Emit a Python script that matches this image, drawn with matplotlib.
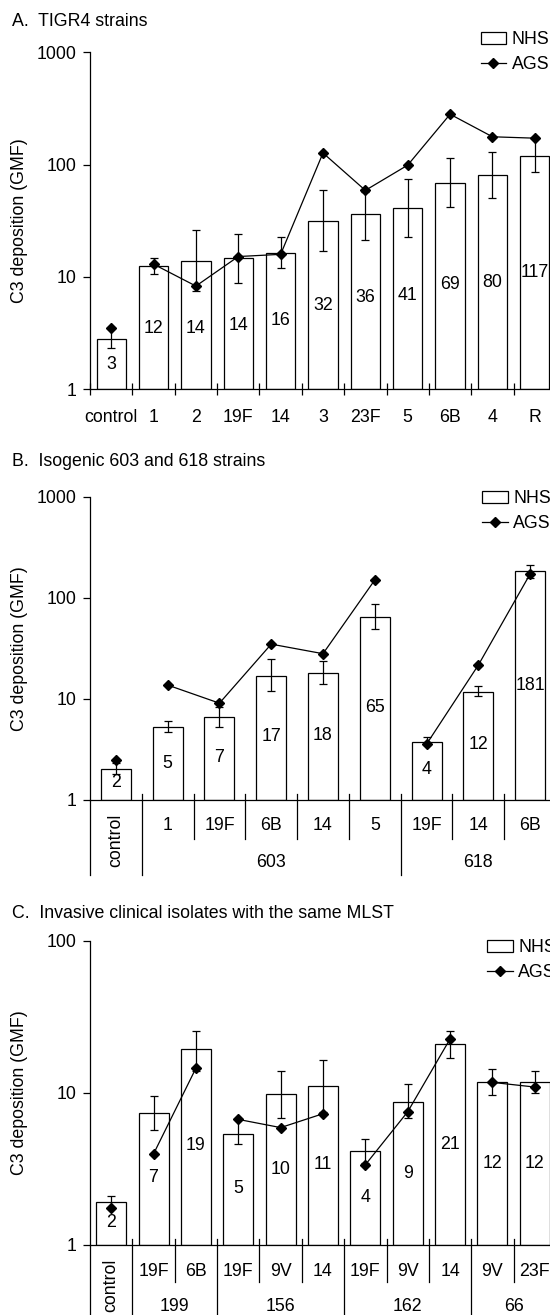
import numpy as np
import matplotlib
matplotlib.use('Agg')
import matplotlib.pyplot as plt
from matplotlib.transforms import blended_transform_factory
from matplotlib.patches import Rectangle
from matplotlib.lines import Line2D
from matplotlib.ticker import NullLocator

plt.rcParams['font.family'] = ['Liberation Sans', 'DejaVu Sans']
plt.rcParams['font.size'] = 12.8

# A. TIGR4 strains
cat_a = ['control', '1', '2', '19F', '14', '3', '23F', '5', '6B', '4', 'R']
nhs_a = [2.8, 12.6, 14.0, 14.7, 16.5, 31.7, 36.6, 41.4, 69, 81, 120]
nhs_a_lo = [2.35, 10.6, 7.5, 8.8, 11.9, 17, 21.4, 22.9, 42, 50.5, 86.7]
nhs_a_hi = [3.5, 14.7, 26.2, 24, 22.6, 59, 57, 74.6, 115, 130, 177]
ags_a = [3.5, 13.0, 8.3, 15.2, 15.9, 127, 59, 99, 281, 177, 172]
lab_a = ['3', '12', '14', '14', '16', '32', '36', '41', '69', '80', '117']
lab_a_y = [1.67, 3.5, 3.5, 3.7, 4.06, 5.6, 6.6, 6.9, 8.5, 9.0, 10.9]
ags_runs_a = [[0], list(range(1, 11))]

# B. Isogenic 603 and 618 strains
cat_b = ['control', '1', '19F', '6B', '14', '5', '19F', '14', '6B']
nhs_b = [2.02, 5.3, 6.56, 17.0, 18.2, 65, 3.72, 11.8, 184]
nhs_b_lo = [1.8, 4.66, 5.3, 11.9, 14.1, 49.5, 3.47, 10.6, 156]
nhs_b_hi = [2.3, 6.1, 8.4, 24.9, 23.5, 87.5, 4.2, 13.4, 209]
ags_b = [2.5, 13.7, 9.07, 34.8, 28, 150, 3.57, 21.6, 172]
lab_b = ['2', '5', '7', '17', '18', '65', '4', '12', '181']
lab_b_y = [1.48, 2.3, 2.66, 4.2, 4.35, 8.2, 1.99, 3.5, 13.7]
groups_b = [('603', 1, 6), ('618', 6, 9)]

# C. Invasive clinical isolates with the same MLST
cat_c = ['control', '19F', '6B', '19F', '9V', '14', '19F', '9V', '14', '9V', '23F']
nhs_c = [1.92, 7.38, 19.4, 5.35, 9.77, 11.1, 4.17, 8.69, 20.8, 11.7, 11.7]
nhs_c_lo = [1.75, 5.71, 14.0, 4.6, 6.82, 7.5, 3.43, 6.8, 16.8, 9.6, 10.0]
nhs_c_hi = [2.1, 9.58, 25.6, 6.73, 14.0, 16.3, 5.0, 11.4, 25.3, 14.3, 14.0]
ags_c = [1.75, 3.96, 14.5, 6.68, 5.9, 7.28, 3.36, 7.5, 22.6, 11.7, 10.9]
lab_c = ['2', '7', '19', '5', '10', '11', '4', '9', '21', '12', '12']
lab_c_y = [1.41, 2.76, 4.5, 2.34, 3.15, 3.36, 2.06, 2.95, 4.6, 3.4, 3.4]
groups_c = [('199', 1, 3), ('156', 3, 6), ('162', 6, 9), ('66', 9, 11)]

W, H = 550, 1315
LW = 0.9
fig = plt.figure(figsize=(W / 100, H / 100), dpi=100)


def fy(y):
    return 1 - y / H


def make_axes(top, bottom, yticks):
    # axes runs from x=90px to past the right edge (the original is cropped)
    ax = fig.add_axes([90 / W, fy(bottom), 466 / W, (bottom - top) / H])
    ax.set_yscale('log')
    ax.set_ylim(yticks[0], yticks[-1])
    ax.set_yticks(yticks)
    ax.set_yticklabels([str(t) for t in yticks])
    ax.yaxis.set_minor_locator(NullLocator())
    ax.spines[['top', 'right']].set_visible(False)
    for s in ['left', 'bottom']:
        ax.spines[s].set_linewidth(LW)
    ax.tick_params(axis='y', length=5, width=LW, pad=5)
    ax.set_ylabel('C3 deposition (GMF)')
    ax.yaxis.set_label_coords(-62 / 466, 0.5)
    return ax


def draw_data(ax, nhs, lo, hi, ags, labs, laby, runs, width):
    n = len(nhs)
    x = np.arange(n) + 0.5
    nhs = np.array(nhs)
    ax.set_xlim(0, n)
    ax.bar(x, nhs - 1, width=width, bottom=1, color='white', edgecolor='black',
           linewidth=LW, zorder=2)
    ax.errorbar(x, nhs, yerr=[nhs - np.array(lo), np.array(hi) - nhs], fmt='none',
                ecolor='black', elinewidth=LW, capsize=3, capthick=LW, zorder=3)
    for run in runs:
        ax.plot(x[run], np.array(ags)[run], color='black', lw=LW, marker='D',
                markersize=5, zorder=4)
    for xi, t, yi in zip(x, labs, laby):
        ax.text(xi, yi, t, ha='center', va='center', zorder=5)


def legend(ax, x0, ytop):
    h = [Rectangle((0, 0), 1, 1, facecolor='white', edgecolor='black', lw=LW),
         Line2D([], [], color='black', lw=LW, marker='D', markersize=5)]
    ax.legend(h, ['NHS', 'AGS'], loc='upper left', frameon=False,
              bbox_to_anchor=(x0 / W, fy(ytop)), bbox_transform=fig.transFigure,
              borderpad=0, borderaxespad=0, handlelength=1.45, handletextpad=0.3,
              labelspacing=0.45, handleheight=0.65)


def group_axis(ax, cats, groups, y_axis, y_short, y_long, y_sub, y_grp, y_ctrl):
    tr = blended_transform_factory(ax.transData, fig.transFigure)
    ax.set_xticks([])
    long_b = {0, 1} | {g[1] for g in groups} | {g[2] for g in groups}
    for k in range(len(cats) + 1):
        y0 = y_axis if k == 0 else y_axis - 6
        y1 = y_long if k in long_b else y_short
        ax.add_line(Line2D([k, k], [fy(y0), fy(y1)], transform=tr, color='black',
                           lw=LW, clip_on=False))
    ax.text(0.5, fy(y_ctrl), cats[0], transform=tr, rotation=90,
            ha='center', va='center')
    for i, c in enumerate(cats[1:], start=1):
        ax.text(i + 0.5, fy(y_sub), c, transform=tr, ha='center', va='center')
    for name, a, b in groups:
        ax.text((a + b) / 2, fy(y_grp), name, transform=tr, ha='center', va='center')


# Panel A
fig.text(12 / W, fy(22), 'A.  TIGR4 strains', ha='left', va='center')
ax_a = make_axes(52.3, 389.3, [1, 10, 100, 1000])
draw_data(ax_a, nhs_a, nhs_a_lo, nhs_a_hi, ags_a, lab_a, lab_a_y, ags_runs_a, 0.69)
ax_a.set_xticks(range(len(cat_a) + 1))
ax_a.set_xticklabels([])
ax_a.tick_params(axis='x', direction='inout', length=8.6, width=LW)
tr_a = blended_transform_factory(ax_a.transData, fig.transFigure)
for i, c in enumerate(cat_a):
    ax_a.text(i + 0.5, fy(417), c, transform=tr_a, ha='center', va='center')
legend(ax_a, 480.5, 31)

# Panel B
fig.text(12 / W, fy(462), 'B.  Isogenic 603 and 618 strains', ha='left', va='center')
ax_b = make_axes(496.7, 800, [1, 10, 100, 1000])
draw_data(ax_b, nhs_b, nhs_b_lo, nhs_b_hi, ags_b, lab_b, lab_b_y,
          [[0]] + [list(range(a, b)) for _, a, b in groups_b], 0.58)
group_axis(ax_b, cat_b, groups_b, 800, 839, 874.5, 826, 862.5, 840)
legend(ax_b, 482, 490)

# Panel C
fig.text(12 / W, fy(913), 'C.  Invasive clinical isolates with the same MLST',
         ha='left', va='center')
ax_c = make_axes(940.7, 1244.8, [1, 10, 100])
draw_data(ax_c, nhs_c, nhs_c_lo, nhs_c_hi, ags_c, lab_c, lab_c_y,
          [[0]] + [list(range(a, b)) for _, a, b in groups_c], 0.71)
group_axis(ax_c, cat_c, groups_c, 1244.8, 1282, 1320, 1271.7, 1306.7, 1285)
legend(ax_c, 487, 939)

fig.savefig('out.png', dpi=100)
